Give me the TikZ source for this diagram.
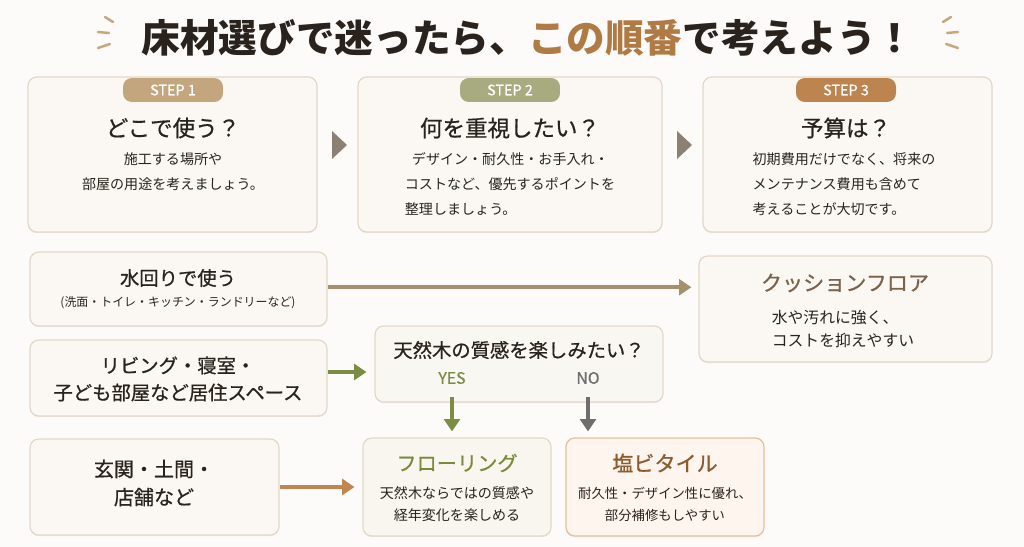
\documentclass[tikz,border=0pt]{standalone}
\usepackage{fontspec}
\setmainfont{Noto Sans CJK JP}
\newfontfamily\medfont[FakeBold=0.7]{Noto Sans CJK JP}
\usepackage{xcolor}
\usetikzlibrary{positioning, arrows.meta, calc, fit, shadows}

\definecolor{ink}{HTML}{2A231D}
\definecolor{titlebrown}{HTML}{B07A45}
\definecolor{deco}{HTML}{C9A57A}
\definecolor{bgpaper}{HTML}{FCFBF9}
\definecolor{boxline}{HTML}{E3D8C8}
\definecolor{boxfill}{HTML}{FBF8F4}
\definecolor{stepA}{HTML}{C3A67E}
\definecolor{stepB}{HTML}{A8AA80}
\definecolor{stepC}{HTML}{BE8450}
\definecolor{trigray}{HTML}{8C8072}
\definecolor{tanarrow}{HTML}{A58F6D}
\definecolor{leafgreen}{HTML}{7B8C45}
\definecolor{stonegray}{HTML}{6E6E6E}
\definecolor{rustarrow}{HTML}{C1864F}
\definecolor{cushionbrown}{HTML}{7B624A}
\definecolor{floorgreen}{HTML}{7A8B3B}
\definecolor{floorfill}{HTML}{F8F6EE}
\definecolor{floorline}{HTML}{DFDCC8}
\definecolor{vinylbrown}{HTML}{8E5A2E}
\definecolor{vinylfill}{HTML}{FDF5EE}
\definecolor{vinylline}{HTML}{EABF97}
\definecolor{qfill}{HTML}{F9F7F1}

\begin{document}
\begin{tikzpicture}[x=0.02cm, y=-0.02cm, text=ink,
  box/.style={draw=boxline, fill=boxfill, rounded corners=5pt, line width=0.7pt, inner sep=0pt,
    drop shadow={shadow xshift=0pt, shadow yshift=-0.7pt, opacity=0.10, fill=black!60}},
  badge/.style={fill=#1, rounded corners=5pt, text=white, font=\fontsize{8.2pt}{9pt}\selectfont\medfont,
    minimum width=2cm, minimum height=0.48cm, inner sep=0pt},
  stephead/.style={font=\fontsize{12.8pt}{15pt}\selectfont\medfont},
  stepbody/.style={font=\fontsize{8pt}{14.2pt}\selectfont},
  place/.style={font=\fontsize{11pt}{15.4pt}\selectfont\medfont, align=center},
  flow/.style={-{Triangle[length=7pt, width=9pt]}, line width=2.1pt}]
\fill[bgpaper] (0,0) rectangle (1024,547);
\useasboundingbox (0,0) rectangle (1024,547);

% title
\node[font=\fontsize{22pt}{26pt}\selectfont\bfseries] (title) at (528,38)
  {床材選びで迷ったら、\textcolor{titlebrown}{この順番}で考えよう！};
\draw[deco, line width=1.4pt, line cap=round] (105,17) -- (113,22) (98,32) -- (109,33) (98,48) -- (110,44);
\draw[deco, line width=1.4pt, line cap=round] (951,17) -- (943,22) (958,32) -- (947,33) (958,48) -- (946,44);

% three steps
\node[box, fit={(28,77) (317,232)}] (step1) {};
\node[box, fit={(358,77) (662,232)}] (step2) {};
\node[box, fit={(703,77) (992,232)}] (step3) {};
\node[badge=stepA] (badge1) at (173,90) {STEP 1};
\node[badge=stepB] (badge2) at (510,90) {STEP 2};
\node[badge=stepC] (badge3) at (846,90) {STEP 3};
\node[stephead] (head1) at (173,128) {どこで使う？};
\node[stephead] (head2) at (510,128) {何を重視したい？};
\node[stephead] (head3) at (846,128) {予算は？};
\node[stepbody, align=center] (body1) at (173,172) {施工する場所や\\部屋の用途を考えましょう。};
\node[stepbody, align=left] (body2) at (510,184) {\hspace{0.5em}デザイン・耐久性・お手入れ・\\コストなど、優先するポイントを\\整理しましょう。};
\node[stepbody, align=left] (body3) at (844,184) {初期費用だけでなく、将来の\\メンテナンス費用も含めて\\考えることが大切です。};
\fill[trigray] (332,131) -- (347,145) -- (332,159) -- cycle;
\fill[trigray] (677,131) -- (692,145) -- (677,159) -- cycle;

% places
\node[box, fit={(30,252) (327,326)}] (water) {};
\node[place] (waterlbl) at (178,278) {水回りで使う};
\node[font=\fontsize{6.8pt}{8pt}\selectfont] (watersub) at (178,303) {(洗面・トイレ・キッチン・ランドリーなど)};
\node[box, fit={(30,340) (327,416)}] (living) {};
\node[place] (livinglbl) at (178,379) {リビング・寝室・\\子ども部屋など居住スペース};
\node[box, fit={(30,439) (279,535)}] (genkan) {};
\node[place, font=\fontsize{11.4pt}{16pt}\selectfont\medfont] (genkanlbl) at (154,483) {玄関・土間・\\店舗など};

% question
\node[box, fill=qfill, fit={(375,326) (663,402)}] (question) {};
\node[font=\fontsize{11pt}{13pt}\selectfont\medfont] (qtext) at (519,350) {天然木の質感を楽しみたい？};
\node[font=\fontsize{9pt}{10pt}\selectfont\medfont, text=leafgreen] (yes) at (452,378) {YES};
\node[font=\fontsize{9pt}{10pt}\selectfont\medfont, text=stonegray] (no) at (588,378) {NO};

% results
\node[box, fit={(699,256) (992,362)}] (cushion) {};
\node[font=\fontsize{12pt}{14pt}\selectfont\medfont, text=cushionbrown] (cushionhead) at (845,283) {クッションフロア};
\node[font=\fontsize{9pt}{13.6pt}\selectfont, align=left] (cushionbody) at (843,329) {水や汚れに強く、\\コストを抑えやすい};
\node[box, fill=floorfill, draw=floorline, fit={(363,438) (551,536)}] (floor) {};
\node[font=\fontsize{11.5pt}{14pt}\selectfont\medfont, text=floorgreen] (floorhead) at (457,463) {フローリング};
\node[font=\fontsize{8pt}{12.5pt}\selectfont, align=center] (floorbody) at (457,504) {天然木ならではの質感や\\経年変化を楽しめる};
\node[box, fill=vinylfill, draw=vinylline, fit={(566,438) (764,536)}] (vinyl) {};
\node[font=\fontsize{12pt}{14pt}\selectfont\medfont, text=vinylbrown] (vinylhead) at (665,463) {塩ビタイル};
\node[font=\fontsize{7.6pt}{12.5pt}\selectfont, align=center] (vinylbody) at (665,504) {耐久性・デザイン性に優れ、\\部分補修もしやすい};

% connectors
\draw[flow, tanarrow, shorten >=4pt] ([yshift=1pt]water.east) -- ([yshift=1pt]water.east -| cushion.west);
\draw[flow, leafgreen, shorten >=4.5pt] ([yshift=3.4pt]living.east) -- ([yshift=3.4pt]living.east -| question.west);
\draw[flow, rustarrow, shorten >=4.5pt] (genkan.east) -- (genkan.east -| floor.west);
\draw[flow, leafgreen, shorten <=4pt, shorten >=3.4pt] (yes.south) -- (yes.south |- floor.north);
\draw[flow, stonegray, shorten <=4pt, shorten >=3.4pt] (no.south) -- (no.south |- floor.north);
\end{tikzpicture}
\end{document}
